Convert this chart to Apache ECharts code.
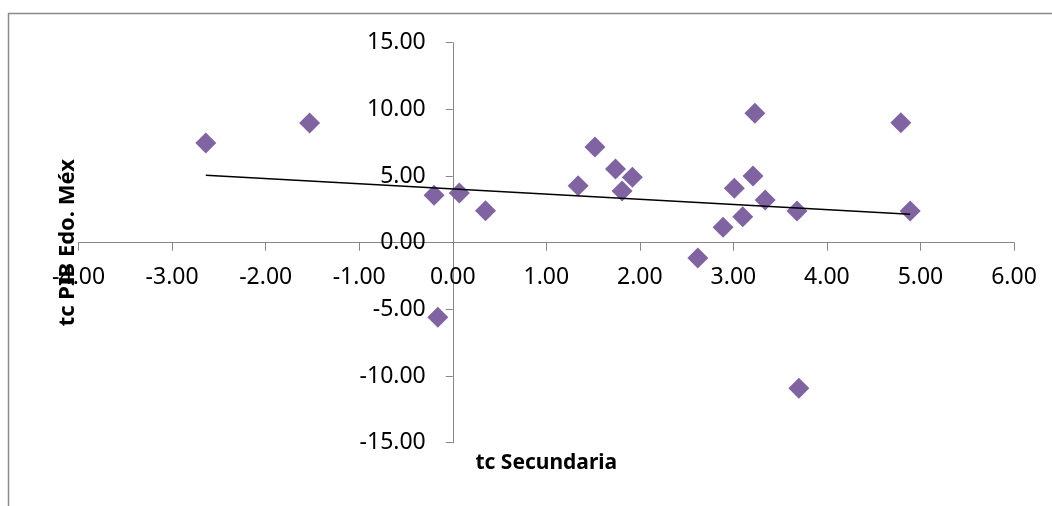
<!DOCTYPE html>
<html>
<head>
<meta charset="utf-8">
<script src="https://cdn.jsdelivr.net/npm/echarts@6/dist/echarts.min.js"></script>
<style>
html,body{margin:0;padding:0;background:#fff;}
#chart{width:1052px;height:506px;}
</style>
</head>
<body>
<div id="chart"></div>
<script>
// Data
var xValues = [-2.64, -1.53, -0.20, 0.07, 0.35, -0.16, 1.34, 1.52, 1.74, 1.81, 1.92, 2.62, 2.89, 3.01, 3.10, 3.21, 3.23, 3.34, 3.68, 3.70, 4.79, 4.89];
var yValues = [7.48, 8.98, 3.55, 3.73, 2.40, -5.60, 4.28, 7.18, 5.53, 3.88, 4.90, -1.15, 1.15, 4.08, 1.95, 5.00, 9.70, 3.20, 2.38, -10.92, 9.00, 2.38];
var trendX = [-2.64, 4.89];
var trendY = [5.05, 2.13];
var xTitle = 'tc Secundaria';
var yTitle = 'tc PIB Edo. Méx';

var points = xValues.map(function (x, i) { return [x, yValues[i]]; });
var trend = trendX.map(function (x, i) { return [x, trendY[i]]; });

var axisColor = '#868686';
var labelFont = '"Noto Sans", sans-serif';

var W = 1052, H = 506;
var gLeft = 78.6, gRight = 38, gTop = 42.7, gBottom = 63.3;
var xMin = -4, xMax = 6, yMin = -15, yMax = 15;
// place axes where the other axis crosses zero (Excel style "axis crosses at 0")
var plotW = W - gLeft - gRight, plotH = H - gTop - gBottom;
var yAxisOffset = -plotW * (0 - xMin) / (xMax - xMin);
var xAxisOffset = -plotH * (0 - yMin) / (yMax - yMin);

var chart = echarts.init(document.getElementById('chart'), null, {renderer: 'canvas'});
chart.setOption({
  animation: false,
  backgroundColor: '#ffffff',
  graphic: [{
    type: 'rect',
    shape: {x: 8.5, y: 13.5, width: 1200, height: 700},
    style: {fill: 'none', stroke: '#8a8a8a', lineWidth: 1.5},
    silent: true,
    z: -10
  }],
  grid: {left: gLeft, right: gRight, top: gTop, bottom: gBottom, containLabel: false, outerBoundsMode: 'none'},
  xAxis: {
    type: 'value',
    position: 'bottom',
    offset: xAxisOffset,
    min: xMin, max: xMax, interval: 1,
    name: xTitle,
    nameLocation: 'middle',
    nameGap: 210,
    nameTextStyle: {fontFamily: labelFont, fontWeight: 'bold', fontSize: 21, color: '#000'},
    axisLine: {onZero: false, lineStyle: {color: axisColor, width: 1}},
    axisTick: {show: true, length: 8, lineStyle: {color: axisColor}},
    splitLine: {show: false},
    axisLabel: {
      margin: 23,
      fontFamily: labelFont, fontSize: 23, color: '#000',
      formatter: function (v) { return v.toFixed(2); }
    }
  },
  yAxis: {
    type: 'value',
    position: 'left',
    offset: yAxisOffset,
    min: yMin, max: yMax, interval: 5,
    name: yTitle,
    nameLocation: 'middle',
    nameGap: 374,
    nameTextStyle: {fontFamily: labelFont, fontWeight: 'bold', fontSize: 22, color: '#000'},
    axisLine: {onZero: false, lineStyle: {color: axisColor, width: 1}},
    axisTick: {show: true, length: 7, lineStyle: {color: axisColor}},
    splitLine: {show: false},
    axisLabel: {
      margin: 27,
      fontFamily: labelFont, fontSize: 23, color: '#000',
      formatter: function (v) { return v.toFixed(2); }
    }
  },
  series: [{
    type: 'scatter',
    data: points,
    symbol: 'diamond',
    symbolSize: 21,
    itemStyle: {color: '#8064A2', opacity: 1},
    z: 2
  }, {
    type: 'line',
    data: trend,
    symbol: 'none',
    lineStyle: {color: '#000000', width: 1.5},
    z: 3
  }]
});
</script>
</body>
</html>
